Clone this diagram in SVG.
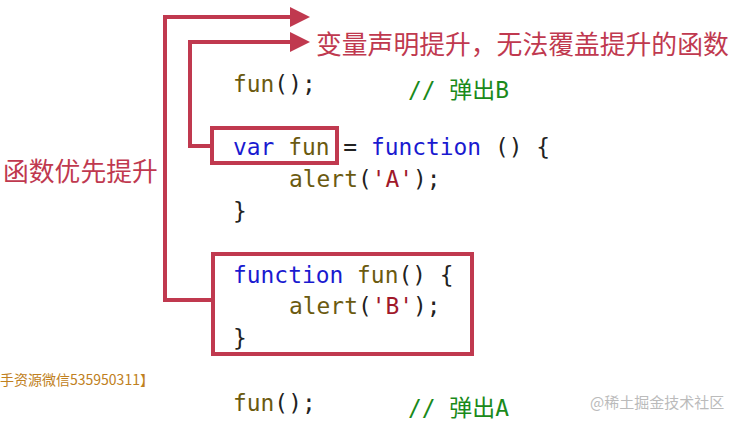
<svg xmlns="http://www.w3.org/2000/svg" width="744" height="424" viewBox="0 0 744 424">
<style>
.c{font-family:"DejaVu Sans Mono",monospace;font-size:22.9px;fill:#222}
.k{fill:#1a1ad0}.f{fill:#6b5a10}.s{fill:#a0182a}.g{fill:#1a8a1a;font-family:"DejaVu Sans Mono","Noto Sans CJK SC",monospace}
.r{fill:none;stroke:#c0394f;stroke-width:4}
.lab{font-family:"Noto Sans CJK SC",sans-serif;font-size:25.8px;fill:#c0394f}
</style>
<defs><marker id="a" markerWidth="5" markerHeight="5" refX="2" refY="2.5" orient="auto"><path d="M0,0L5,2.5L0,5z" fill="#c0394f"/></marker></defs>
<rect width="744" height="424" fill="#fff"/>
<g id="connectors">
<path class="r" d="M213,300H165V17H298" marker-end="url(#a)"/>
<path class="r" d="M212,146H190V42H298" marker-end="url(#a)"/>
</g>
<g id="box1"><rect class="r" x="212" y="128" width="125" height="35"/></g>
<g id="box2"><rect class="r" x="213" y="254" width="259" height="100"/></g>
<g id="code" class="c">
<text x="233" y="92"><tspan class="f">fun</tspan>();</text>
<text x="408" y="98" class="g">// 弹出B</text>
<text x="233" y="155"><tspan class="k">var</tspan> <tspan class="f">fun</tspan> = <tspan class="k">function</tspan> () {</text>
<text x="289" y="187"><tspan class="f">alert</tspan>(<tspan class="s">'A'</tspan>);</text>
<text x="233" y="219">}</text>
<text x="233" y="283"><tspan class="k">function</tspan> <tspan class="f">fun</tspan>() {</text>
<text x="289" y="314"><tspan class="f">alert</tspan>(<tspan class="s">'B'</tspan>);</text>
<text x="233" y="346">}</text>
<text x="233" y="411"><tspan class="f">fun</tspan>();</text>
<text x="408" y="416" class="g">// 弹出A</text>
</g>
<g id="labels">
<text class="lab" x="316" y="54">变量声明提升，无法覆盖提升的函数</text>
<text class="lab" x="3" y="181">函数优先提升</text>
<text x="0" y="385" font-family="Noto Sans CJK SC,sans-serif" font-size="14" fill="#c08020">手资源微信535950311】</text>
<text x="590" y="408" font-family="Noto Sans CJK SC,sans-serif" font-size="15" fill="#bbb">@稀土掘金技术社区</text>
</g>
</svg>
